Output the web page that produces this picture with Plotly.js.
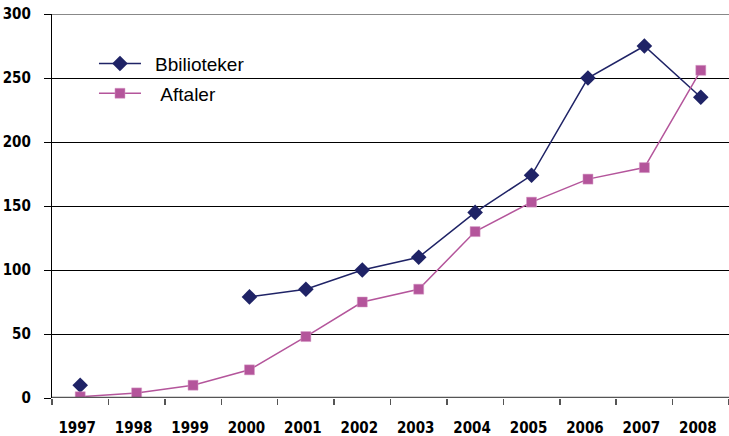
<!DOCTYPE html>
<html><head><meta charset="utf-8">
<script src="https://cdn.plot.ly/plotly-3.0.1.min.js"></script>
<style>html,body{margin:0;padding:0;background:#fff}#chart{width:729px;height:436px}</style>
</head><body><div id="chart"></div>
<script>
const years = ['1997','1998','1999','2000','2001','2002','2003','2004','2005','2006','2007','2008'];
const biblioteker = [10, null, null, 79, 85, 100, 110, 145, 174, 250, 275, 235];
const aftaler = [1, 4, 10, 22, 48, 75, 85, 130, 153, 171, 180, 256];
const yTicks = [0, 50, 100, 150, 200, 250, 300];

const tickFont = {family: '"DejaVu Sans Condensed", "Liberation Sans Narrow", "Arial Narrow", sans-serif', size: 15, color: '#000', weight: 'bold'};

const traces = [
  {x: years, y: biblioteker, name: '\u00a0\u2009Bbilioteker', legendgroup: 'a', type: 'scatter', mode: 'lines+markers', connectgaps: false,
   line: {color: '#1f2366', width: 1.5}, marker: {symbol: 'diamond', size: 12, color: '#1f2366'}},
  {x: years, y: aftaler, name: '\u00a0\u00a0\u2009Aftaler', legendgroup: 'b', type: 'scatter', mode: 'lines+markers',
   line: {color: '#b4559b', width: 1.5}, marker: {symbol: 'square', size: 10, color: '#b4559b', line: {color: '#d79ac6', width: 0.5}}}
];

const layout = {
  width: 729, height: 436,
  margin: {l: 52, r: 0, t: 14, b: 38},
  paper_bgcolor: '#fff', plot_bgcolor: '#fff',
  showlegend: true,
  legend: {x: 0.062, y: 0.92, xanchor: 'left', yanchor: 'top', bgcolor: 'rgba(0,0,0,0)',
           font: {family: '"Liberation Sans", Arial, sans-serif', size: 19, color: '#000'}, tracegroupgap: 2, itemwidth: 42},
  xaxis: {type: 'category', categoryorder: 'array', categoryarray: years,
          tickson: 'boundaries', ticks: 'outside', ticklen: 6, tickcolor: '#555', tickwidth: 1.5,
          showgrid: false, zeroline: false, showline: false, tickfont: tickFont, ticklabelshift: -3,
          ticklabelstandoff: 19, range: [-0.5, 11.5]},
  yaxis: {range: [0, 300], tickvals: yTicks, ticks: 'outside', ticklen: 7, tickcolor: '#000', tickwidth: 1,
          showgrid: true, gridcolor: '#000', gridwidth: 1, zeroline: false,
          showline: true, linecolor: '#000', linewidth: 1.2, tickfont: tickFont, ticklabelstandoff: 10},
  shapes: [
    {type: 'line', xref: 'paper', yref: 'y', x0: 0, x1: 1, y0: 0, y1: 0, line: {color: '#555', width: 2.5}},
    {type: 'line', xref: 'paper', yref: 'y', x0: 0, x1: 1, y0: 300, y1: 300, line: {color: '#888', width: 2}}
  ]
};

Plotly.newPlot('chart', traces, layout, {displayModeBar: false, staticPlot: true});
</script></body></html>
